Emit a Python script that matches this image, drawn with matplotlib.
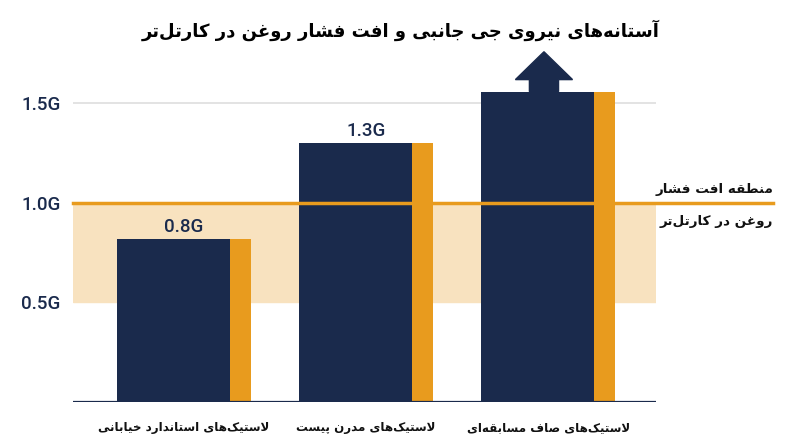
import matplotlib
matplotlib.use("Agg")
import matplotlib.pyplot as plt
from matplotlib.patches import Polygon

# minimal Persian shaping: map letters to presentation forms, then reverse for RTL
FORMS = {
    'ا': ('\uFE8D', '\uFE8E'), 'آ': ('\uFE81', '\uFE82'),
    'ب': ('\uFE8F', '\uFE90', '\uFE91', '\uFE92'), 'پ': ('\uFB56', '\uFB57', '\uFB58', '\uFB59'),
    'ت': ('\uFE95', '\uFE96', '\uFE97', '\uFE98'), 'ج': ('\uFE9D', '\uFE9E', '\uFE9F', '\uFEA0'),
    'خ': ('\uFEA5', '\uFEA6', '\uFEA7', '\uFEA8'), 'د': ('\uFEA9', '\uFEAA'),
    'ر': ('\uFEAD', '\uFEAE'), 'س': ('\uFEB1', '\uFEB2', '\uFEB3', '\uFEB4'),
    'ش': ('\uFEB5', '\uFEB6', '\uFEB7', '\uFEB8'), 'ص': ('\uFEB9', '\uFEBA', '\uFEBB', '\uFEBC'),
    'ط': ('\uFEC1', '\uFEC2', '\uFEC3', '\uFEC4'), 'غ': ('\uFECD', '\uFECE', '\uFECF', '\uFED0'),
    'ف': ('\uFED1', '\uFED2', '\uFED3', '\uFED4'), 'ق': ('\uFED5', '\uFED6', '\uFED7', '\uFED8'),
    'ک': ('\uFB8E', '\uFB8F', '\uFB90', '\uFB91'), 'ل': ('\uFEDD', '\uFEDE', '\uFEDF', '\uFEE0'),
    'م': ('\uFEE1', '\uFEE2', '\uFEE3', '\uFEE4'), 'ن': ('\uFEE5', '\uFEE6', '\uFEE7', '\uFEE8'),
    'ه': ('\uFEE9', '\uFEEA', '\uFEEB', '\uFEEC'), 'و': ('\uFEED', '\uFEEE'),
    'ی': ('\uFBFC', '\uFBFD', '\uFBFE', '\uFBFF'),
}
LAM_ALEF = {'ا': ('\uFEFB', '\uFEFC'), 'آ': ('\uFEF5', '\uFEF6')}


def dual(c):
    return c in FORMS and len(FORMS[c]) == 4


def fa(text):
    out, prev, i = [], None, 0
    while i < len(text):
        c = text[i]
        if c not in FORMS:
            if c != '\u200c':
                out.append(c)
            prev = None
            i += 1
            continue
        link_prev = prev is not None and dual(prev)
        if c == 'ل' and i + 1 < len(text) and text[i + 1] in LAM_ALEF:
            lig = LAM_ALEF[text[i + 1]]
            out.append(lig[1] if link_prev else lig[0])
            prev = 'ا'
            i += 2
            continue
        nxt = text[i + 1] if i + 1 < len(text) else None
        link_next = dual(c) and nxt in FORMS
        f = FORMS[c]
        if link_prev and link_next:
            g = f[3]
        elif link_prev:
            g = f[1]
        elif link_next:
            g = f[2]
        else:
            g = f[0]
        out.append(g)
        prev = c
        i += 1
    return ''.join(reversed(out))


# data
categories = ['لاستیک‌های استاندارد خیابانی', 'لاستیک‌های مدرن پیست', 'لاستیک‌های صاف مسابقه‌ای']
g_values = [0.82, 1.30, 1.56]
value_labels = ['0.8G', '1.3G', None]
zone_low, zone_high = 0.5, 1.0
yticks = [0.5, 1.0, 1.5]
ytick_labels = ['0.5G', '1.0G', '1.5G']
title = 'آستانه‌های نیروی جی جانبی و افت فشار روغن در کارتل‌تر'
zone_text = ['منطقه افت فشار', 'روغن در کارتل‌تر']

NAVY = '#1a2a4c'
ORANGE = '#e89b1e'
BAND = '#f8e2bf'
FA_FONT = ['DejaVu Sans']
NUM_FONT = ['Roboto', 'DejaVu Sans']

fig = plt.figure(figsize=(8, 4.47), dpi=100)
ax = fig.add_axes([73 / 800, 45 / 447, 583 / 800, 402 / 447])
ax.set_xlim(-0.61, 2.593)
ax.set_ylim(0, 2.02)

ax.axhspan(zone_low, zone_high, color=BAND, zorder=0)
ax.axhline(1.5, color='#dedede', lw=1.2, zorder=0.5)

navy_w, orange_w = 0.62, 0.115
half = (navy_w + orange_w) / 2
xs = list(range(len(categories)))
ax.bar([x - half for x in xs], g_values, width=navy_w, align='edge', color=NAVY, zorder=2)
ax.bar([x - half + navy_w for x in xs], g_values, width=orange_w, align='edge', color=ORANGE, zorder=2)

# threshold line, extended past the plot to the annotation
x_end = 2.593 + (773 - 656) / 182
ax.plot([-0.61, x_end], [zone_high, zone_high], color=ORANGE, lw=2.5, clip_on=False, zorder=3)
ax.axhline(0, color=NAVY, lw=1.6, zorder=3)

for x, v, lab in zip(xs, g_values, value_labels):
    if lab:
        ax.text(x, v + 0.035, lab, ha='center', va='baseline', fontsize=13.5,
                family=NUM_FONT, color=NAVY, weight='medium')

# arrow above the tallest bar
cx = xs[-1] - half + navy_w / 2 + 0.035
top = g_values[-1]
arrow = Polygon([(cx - 0.08, top), (cx - 0.08, top + 0.06), (cx - 0.157, top + 0.06),
                 (cx, top + 0.20), (cx + 0.157, top + 0.06), (cx + 0.08, top + 0.06),
                 (cx + 0.08, top)], closed=True, color=NAVY, clip_on=False, zorder=2)
ax.add_patch(arrow)

ax.set_yticks(yticks)
ax.set_yticklabels(ytick_labels, family=NUM_FONT, fontsize=13.5, color=NAVY, weight='medium')
ax.tick_params(axis='y', length=0, pad=9)
ax.set_xticks(xs)
ax.set_xticklabels([fa(c) for c in categories], family=FA_FONT, fontsize=8.6,
                   weight='bold', color='#111111')
ax.tick_params(axis='x', length=0, pad=14)
for s in ax.spines.values():
    s.set_visible(False)

fig.text(0.501, 0.933, fa(title), ha='center', va='center', family=FA_FONT,
         fontsize=13, weight='bold', color='#000000')
fig.text(773 / 800, 1 - 190 / 447, fa(zone_text[0]), ha='right', va='center',
         family=FA_FONT, fontsize=9.7, weight='bold', color='#111111')
fig.text(773 / 800, 1 - 221 / 447, fa(zone_text[1]), ha='right', va='center',
         family=FA_FONT, fontsize=9.7, weight='bold', color='#111111')

fig.savefig('out.png', dpi=100)
